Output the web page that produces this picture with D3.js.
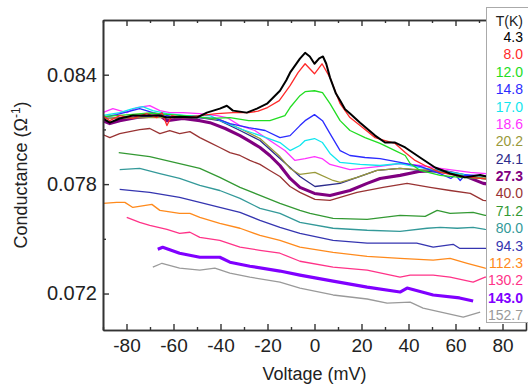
<!DOCTYPE html>
<html>
<head>
<meta charset="utf-8">
<script src="https://cdn.jsdelivr.net/npm/d3@7"></script>
<style>
	body { margin: 0; background: #fff; }
	svg { display: block; font-family: "Liberation Sans", Arial, sans-serif; }
</style>
</head>
<body>
<div id="chart"></div>
<script>
// temperatures (legend order) and line colours
const temps = ['4.3', '8.0', '12.0', '14.8', '17.0', '18.6', '20.2', '24.1', '27.3', '40.0', '71.2', '80.0', '94.3', '112.3', '130.2', '143.0', '152.7'];
const colors = ['#000000', '#ff2a2a', '#22dd22', '#2b2bff', '#11e6ee', '#ff33ff', '#99993a', '#2c2c8c', '#800080', '#993333', '#339933', '#339999', '#3535b0', '#ff8a1c', '#ff3388', '#8000ff', '#9a9a9a'];

// conductance curves, [voltage mV, conductance 1/ohm]
const t4_3 = [[-90.1,0.0816],[-87.1,0.08137],[-82.9,0.0816],[-77.3,0.08176],[-65.8,0.08176],[-62.8,0.08165],[-57.4,0.0817],[-50.1,0.08165],[-45.8,0.08192],[-40.3,0.08214],[-37.3,0.0823],[-34.7,0.08203],[-28.8,0.08192],[-24.5,0.08214],[-20.2,0.08241],[-14.7,0.08312],[-12,0.0837],[-10.4,0.08411],[-6.2,0.08488],[-4,0.0852],[-2,0.0850],[0,0.0846],[2,0.0849],[3.6,0.0850],[5,0.0846],[6.6,0.08384],[9,0.0830],[10.9,0.08258],[13,0.0821],[15.1,0.08187],[19.4,0.08137],[25.8,0.08066],[30,0.08028],[34.3,0.08028],[38.6,0.08001],[44.9,0.07946],[51.3,0.07891],[57.7,0.07858],[64,0.07837],[70.5,0.0785],[80,0.0782],[90,0.0781]];
const t8_0 = [[-90.1,0.08176],[-87.1,0.08148],[-82.9,0.08176],[-77.3,0.0816],[-71.4,0.08187],[-67.1,0.08165],[-64.9,0.08192],[-62.8,0.08121],[-60.7,0.08176],[-56,0.08165],[-48.8,0.08176],[-41.5,0.08187],[-34.7,0.08192],[-28,0.08192],[-24,0.0820],[-20,0.0822],[-15,0.08258],[-10.4,0.0834],[-7,0.08411],[-4,0.0846],[0,0.08405],[3.2,0.0846],[6.6,0.08384],[10.9,0.08241],[15.1,0.08165],[19.4,0.08121],[25.8,0.08055],[30,0.08039],[34.3,0.08023],[38.6,0.07973],[42.8,0.0793],[47,0.07902],[53.5,0.07864],[62,0.07842],[70.5,0.07831],[80,0.0782],[90,0.0781]];
const t12_0 = [[-90.1,0.0817],[-80,0.0818],[-70,0.0819],[-60,0.0818],[-50,0.0817],[-44.5,0.0816],[-36,0.08165],[-28,0.08148],[-19,0.08148],[-12.6,0.08176],[-10.4,0.0822],[-6.2,0.08285],[-4,0.08307],[0,0.08312],[3.4,0.08302],[6.6,0.08241],[10.9,0.08148],[15.1,0.08094],[21.5,0.08055],[27.9,0.08023],[34.3,0.07984],[38.6,0.07957],[40.7,0.07913],[45,0.07875],[53.5,0.07848],[62,0.07837],[70.5,0.07831],[80,0.0782],[90,0.0781]];
const t14_8 = [[-90.1,0.08165],[-84.2,0.08181],[-74.4,0.08214],[-68.8,0.08192],[-60.3,0.0817],[-48.8,0.08165],[-42,0.0816],[-36,0.08132],[-28,0.0811],[-21,0.08094],[-14.7,0.08055],[-10.4,0.08066],[-6.2,0.08121],[-4,0.08148],[0,0.08181],[3.4,0.08148],[6.6,0.08077],[10.9,0.07984],[15.1,0.07957],[21.5,0.07946],[27.9,0.0794],[36.4,0.07919],[44.9,0.07897],[53.4,0.07858],[58,0.07831],[60,0.0785],[62,0.0782],[64,0.0785],[70,0.07848],[80,0.0783],[90,0.0782]];
const t17_0 = [[-90.1,0.08176],[-82.9,0.08192],[-77.3,0.08214],[-73.1,0.08225],[-68.8,0.08203],[-62.8,0.08187],[-54.3,0.08176],[-44.5,0.08176],[-40,0.08148],[-32,0.08105],[-23,0.08066],[-14.7,0.08028],[-10.4,0.07984],[-6.2,0.08012],[-4,0.08039],[0,0.0805],[3.4,0.08028],[6.6,0.07968],[10.9,0.07919],[19.4,0.07908],[27.9,0.07902],[36.4,0.07913],[44.9,0.07891],[53.4,0.07875],[66,0.07848],[80,0.0784],[90,0.0783]];
const t18_6 = [[-90.1,0.08192],[-85.8,0.08214],[-79.9,0.08192],[-75.6,0.0822],[-70.1,0.0823],[-65.8,0.08203],[-61.6,0.08192],[-56,0.08192],[-48.8,0.08187],[-41.5,0.08176],[-37.3,0.08165],[-31.7,0.08121],[-25.4,0.08094],[-19,0.08039],[-12.6,0.07984],[-8.3,0.0793],[-4,0.0794],[0,0.07951],[3.2,0.0794],[6.6,0.07908],[15.1,0.0788],[27.9,0.07897],[36.4,0.07913],[44.9,0.07902],[53.5,0.07886],[66.3,0.07864],[80,0.0785],[90,0.0784]];
const t20_2 = [[-90,0.0816],[-70,0.08165],[-48.8,0.08165],[-40.3,0.08154],[-31.7,0.08105],[-23.2,0.0805],[-14.7,0.07951],[-10.4,0.07886],[-6.2,0.07853],[0.2,0.07864],[7.9,0.0782],[10.9,0.07809],[18.1,0.07837],[26.6,0.07875],[36.4,0.07886],[49.2,0.07875],[62,0.07853],[70.5,0.07837],[80,0.0782],[90,0.0781]];
const t24_1 = [[-90,0.0816],[-70,0.0817],[-48.8,0.08165],[-40.3,0.08148],[-31.7,0.08094],[-23.2,0.08039],[-14.7,0.07941],[-10.4,0.07891],[-6.2,0.07842],[0.2,0.07787],[10.9,0.07804],[19.4,0.07842],[26.6,0.07875],[36.4,0.07886],[44.9,0.07875],[53.5,0.07864],[62,0.07848],[70.5,0.07831],[80,0.0782],[90,0.0781]];
const t27_3 = [[-90.1,0.08148],[-87.1,0.08132],[-82.9,0.08148],[-75.6,0.08165],[-65.8,0.08176],[-62.8,0.08148],[-56,0.0816],[-48.8,0.08148],[-44.5,0.08137],[-38,0.08105],[-31.7,0.08066],[-27.5,0.08034],[-23.2,0.08001],[-19,0.07957],[-14.7,0.07902],[-10.4,0.07831],[-6.2,0.07782],[0,0.07749],[6.6,0.07738],[15.1,0.07765],[22.4,0.07804],[27.9,0.07831],[36.4,0.07848],[44.9,0.0787],[53.5,0.07875],[63.3,0.07848],[71.8,0.07804],[80,0.0779],[90,0.0778]];
const t40_0 = [[-90.1,0.08072],[-87.1,0.08055],[-82.9,0.08077],[-74.4,0.08099],[-70.1,0.08105],[-65.8,0.08077],[-61.6,0.08094],[-57.4,0.08077],[-53,0.08088],[-48.8,0.08055],[-44.5,0.08028],[-40.3,0.08001],[-36,0.07973],[-31.7,0.07957],[-27.5,0.0793],[-23.2,0.07908],[-19,0.07875],[-14.7,0.07842],[-10.4,0.07787],[-6.2,0.07755],[0.2,0.07716],[6.6,0.07711],[10.9,0.07727],[18.1,0.07755],[29.2,0.07782],[39.4,0.07804],[49.2,0.07782],[57.7,0.07765],[66.3,0.07749],[71.8,0.07711],[80,0.0770],[90,0.0769]];
const t71_2 = [[-83.3,0.07973],[-70.1,0.07951],[-57.4,0.07913],[-48.8,0.07886],[-40.3,0.07837],[-31.7,0.07782],[-23.2,0.07738],[-14.7,0.07694],[-6.2,0.07656],[-1.9,0.0764],[7.9,0.07612],[22.4,0.07607],[36.4,0.07629],[47.1,0.07623],[52.2,0.07656],[57.7,0.0764],[67.5,0.07645],[72.6,0.07629],[80,0.0763],[90,0.0762]];
const t80_0 = [[-82.9,0.0788],[-74.4,0.07886],[-65.8,0.07858],[-57.4,0.07831],[-48.8,0.07793],[-40.3,0.07765],[-31.7,0.07722],[-23.2,0.07667],[-14.7,0.0764],[-6.2,0.0759],[7.9,0.07558],[22.4,0.07547],[36.4,0.07541],[47.9,0.07558],[53.5,0.07563],[60.7,0.07558],[67.5,0.07563],[72.6,0.07552],[80,0.0755],[90,0.0754]];
const t94_3 = [[-82.9,0.07771],[-70.1,0.07755],[-57.4,0.07727],[-48.8,0.077],[-40.3,0.07672],[-31.7,0.07645],[-23.2,0.07601],[-14.7,0.07563],[-6.2,0.0753],[7.9,0.07492],[22.4,0.07476],[36.4,0.07476],[43.5,0.07476],[50.5,0.07454],[59.0,0.0747],[61.7,0.07448],[72.6,0.07448],[80,0.0744],[90,0.0743]];
const t112_3 = [[-90.1,0.07694],[-84.2,0.077],[-80.7,0.077],[-77.3,0.07672],[-69.2,0.07689],[-65.8,0.07656],[-57.4,0.0764],[-53,0.0764],[-48.8,0.07618],[-40.3,0.07585],[-31.7,0.07558],[-23.2,0.07519],[-14.7,0.07492],[-6.2,0.07454],[7.9,0.07426],[22.4,0.07404],[36.4,0.07393],[50.5,0.07383],[57.7,0.07393],[65,0.07366],[72.6,0.07339],[80,0.0733],[90,0.0732]];
const t130_2 = [[-79.9,0.07618],[-74.4,0.0759],[-70.1,0.07574],[-62.8,0.07552],[-57.4,0.0753],[-53,0.07536],[-48.8,0.07508],[-40.3,0.07492],[-31.7,0.07454],[-23.2,0.07437],[-14.7,0.07421],[-6.2,0.07377],[7.9,0.07345],[22.4,0.07328],[36.4,0.0729],[40.7,0.07301],[50.5,0.07301],[57.7,0.0729],[67.5,0.07263],[72.6,0.0729],[80,0.0729]];
const t143_0 = [[-66.7,0.07443],[-64.6,0.07454],[-57.4,0.07421],[-48.8,0.07399],[-40.3,0.07399],[-36,0.07372],[-27.5,0.0735],[-14.7,0.07323],[-6.2,0.07301],[7.9,0.07268],[22.4,0.07235],[36.4,0.07208],[39.4,0.0723],[50.5,0.07192],[61.7,0.07176],[67.5,0.07159]];
const t152_7 = [[-68.8,0.07345],[-64.9,0.07366],[-57.4,0.07339],[-48.8,0.07328],[-42.4,0.07339],[-36,0.07312],[-27.5,0.0729],[-14.7,0.07263],[-6.2,0.0723],[7.9,0.07192],[22.4,0.0717],[30.9,0.07147],[40.7,0.07153],[46.2,0.0712],[63.3,0.07071],[70.5,0.07098]];

const curves = [t4_3, t8_0, t12_0, t14_8, t17_0, t18_6, t20_2, t24_1, t27_3, t40_0, t71_2, t80_0, t94_3, t112_3, t130_2, t143_0, t152_7];

// axis ticks
const xTicks = [-80, -60, -40, -20, 0, 20, 40, 60, 80];
const xMinor = [-90, -70, -50, -30, -10, 10, 30, 50, 70];
const yTicks = [0.072, 0.078, 0.084];
const yMinor = [0.075, 0.081];

// 1. size and margins
const W = 528, H = 386;
const margin = { top: 20, right: 2, bottom: 56, left: 103 };
const width = W - margin.left - margin.right;
const height = H - margin.top - margin.bottom;

const svg = d3.select('#chart').append('svg')
	.attr('width', W)
	.attr('height', H);

const g = svg.append('g')
	.attr('transform', `translate(${margin.left},${margin.top})`);

// 2. scales
const x = d3.scaleLinear().domain([-90, 90]).range([0, width]);
const y = d3.scaleLinear().domain([0.070, 0.087]).range([height, 0]);

// 3. curves (high temperature first so the low-T curves sit on top)
const line = d3.line().x(d => x(d[0])).y(d => y(d[1]));
const widths = temps.map(t => t === '4.3' ? 2 : (t === '27.3' || t === '143.0') ? 3.1 : 1.3);

g.append('defs').append('clipPath').attr('id', 'clip')
	.append('rect').attr('width', width).attr('height', height);

const plot = g.append('g').attr('clip-path', 'url(#clip)');
d3.range(curves.length).reverse().forEach(i => {
	plot.append('path')
		.datum(curves[i])
		.attr('fill', 'none')
		.attr('stroke', colors[i])
		.attr('stroke-width', widths[i])
		.attr('stroke-linejoin', 'round')
		.attr('d', line);
});

// 4. axes, ticks pointing inward on all four sides
const axisColor = '#333';
function styleAxis(sel) {
	sel.select('.domain').attr('stroke', axisColor).attr('stroke-width', 1.6);
	sel.selectAll('.tick line').attr('stroke', axisColor).attr('stroke-width', 1.4);
	sel.selectAll('.tick text').attr('fill', '#222').attr('font-family', '"Liberation Sans", Arial, sans-serif');
}

g.append('g').attr('transform', `translate(0,${height})`)
	.call(d3.axisBottom(x).tickValues(xTicks).tickSizeInner(-6).tickSizeOuter(0).tickPadding(9))
	.call(styleAxis)
	.selectAll('.tick text').attr('font-size', 19).text(d => d);
g.append('g').attr('transform', `translate(0,${height})`)
	.call(d3.axisBottom(x).tickValues(xMinor).tickSizeInner(-3).tickSizeOuter(0).tickFormat(''))
	.call(styleAxis);

g.append('g')
	.call(d3.axisTop(x).tickValues(xTicks).tickSizeInner(-6).tickSizeOuter(0).tickFormat(''))
	.call(styleAxis);
g.append('g')
	.call(d3.axisTop(x).tickValues(xMinor).tickSizeInner(-3).tickSizeOuter(0).tickFormat(''))
	.call(styleAxis);

g.append('g')
	.call(d3.axisLeft(y).tickValues(yTicks).tickSizeInner(-6).tickSizeOuter(0).tickPadding(6).tickFormat(d3.format('.3f')))
	.call(styleAxis)
	.selectAll('.tick text').attr('font-size', 20);
g.append('g')
	.call(d3.axisLeft(y).tickValues(yMinor).tickSizeInner(-3).tickSizeOuter(0).tickFormat(''))
	.call(styleAxis);

g.append('g').attr('transform', `translate(${width},0)`)
	.call(d3.axisRight(y).tickValues(yTicks).tickSizeInner(-6).tickSizeOuter(0).tickFormat(''))
	.call(styleAxis);

// 5. axis titles
svg.append('text')
	.attr('x', margin.left + x(0))
	.attr('y', 380)
	.attr('text-anchor', 'middle')
	.attr('font-size', 18)
	.attr('fill', '#222')
	.text('Voltage (mV)');

const yTitle = svg.append('text')
	.attr('transform', `translate(27,${margin.top + y(0.0785)}) rotate(-90)`)
	.attr('text-anchor', 'middle')
	.attr('font-size', 18)
	.attr('fill', '#222');
yTitle.append('tspan').text('Conductance (\u03A9');
yTitle.append('tspan').attr('font-size', 12).attr('dy', -7).text('-1');
yTitle.append('tspan').attr('dy', 7).text(')');

// 6. legend box
const legend = svg.append('g');
legend.append('rect')
	.attr('x', 486.5).attr('y', 7.5)
	.attr('width', 45).attr('height', 315)
	.attr('fill', '#fff')
	.attr('stroke', '#aaa');
legend.append('text')
	.attr('x', 523).attr('y', 26)
	.attr('text-anchor', 'end')
	.attr('font-size', 14)
	.attr('fill', '#222')
	.text('T(K)');
temps.forEach((t, i) => {
	legend.append('text')
		.attr('x', 523)
		.attr('y', 42 + i * 17.375)
		.attr('text-anchor', 'end')
		.attr('font-size', 14)
		.attr('font-weight', (t === '27.3' || t === '143.0') ? 'bold' : 'normal')
		.attr('fill', colors[i])
		.text(t);
});
</script>
</body>
</html>
